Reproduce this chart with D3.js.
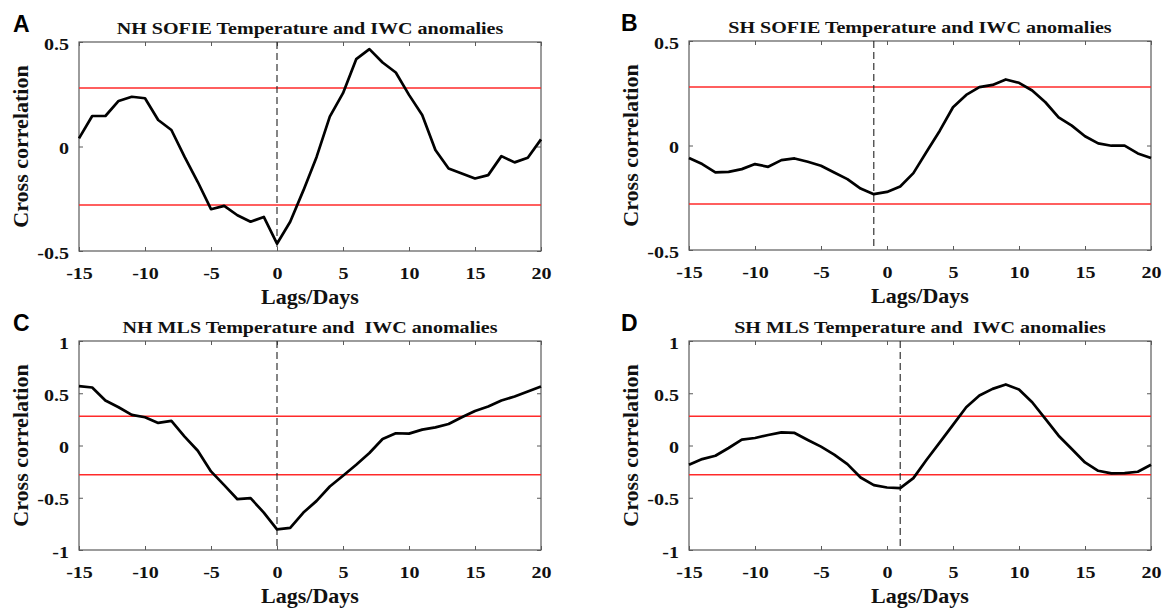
<!DOCTYPE html>
<html>
<head>
<meta charset="utf-8">
<script src="https://cdn.jsdelivr.net/npm/d3@7/dist/d3.min.js"></script>
<style>
  body { margin: 0; background: #fff; }
</style>
</head>
<body>
<div id="chart"></div>
<script>
// Data
const lags = [-15, -14, -13, -12, -11, -10, -9, -8, -7, -6, -5, -4, -3, -2, -1, 0, 1, 2,
  3, 4, 5, 6, 7, 8, 9, 10, 11, 12, 13, 14, 15, 16, 17, 18, 19, 20]

const nhSofie = [0.039, 0.146, 0.146, 0.218, 0.238, 0.231, 0.127, 0.079, -0.05, -0.17, -0.30, -0.284,
  -0.329, -0.36, -0.337, -0.465, -0.36, -0.21, -0.05, 0.143, 0.255, 0.418, 0.466, 0.402,
  0.354, 0.247, 0.151, -0.017, -0.105, -0.129, -0.153, -0.137, -0.046, -0.076, -0.054, 0.034]

const shSofie = [-0.06, -0.089, -0.129, -0.126, -0.113, -0.089, -0.102, -0.07, -0.062, -0.078, -0.097, -0.129,
  -0.161, -0.206, -0.233, -0.222, -0.196, -0.132, -0.03, 0.071, 0.183, 0.242, 0.279, 0.29,
  0.316, 0.30, 0.263, 0.207, 0.135, 0.095, 0.044, 0.01, -0.001, -0.001, -0.038, -0.06]

const nhMls = [0.568, 0.555, 0.43, 0.366, 0.293, 0.27, 0.216, 0.235, 0.085, -0.05, -0.248, -0.379,
  -0.514, -0.504, -0.642, -0.802, -0.789, -0.642, -0.53, -0.392, -0.29, -0.184, -0.072, 0.062,
  0.117, 0.114, 0.152, 0.174, 0.206, 0.27, 0.331, 0.373, 0.43, 0.469, 0.517, 0.565]

const shMls = [-0.184, -0.13, -0.098, -0.024, 0.056, 0.072, 0.1, 0.126, 0.12, 0.053, -0.011, -0.088,
  -0.178, -0.306, -0.379, -0.402, -0.408, -0.312, -0.136, 0.03, 0.197, 0.366, 0.478, 0.542,
  0.584, 0.536, 0.414, 0.254, 0.094, -0.034, -0.162, -0.242, -0.267, -0.264, -0.251, -0.184]

const sigLevel = 0.28            // red significance lines at +/- this value
const xTicks = [-15, -10, -5, 0, 5, 10, 15, 20]
const sofieTicks = [-0.5, 0, 0.5]
const mlsTicks = [-1, -0.5, 0, 0.5, 1]

const panels = [
  { letter: 'A', title: 'NH SOFIE Temperature and IWC anomalies', values: nhSofie, yTicks: sofieTicks, refLag: 0, left: 79, top: 42 },
  { letter: 'B', title: 'SH SOFIE Temperature and IWC anomalies', values: shSofie, yTicks: sofieTicks, refLag: -1, left: 689, top: 41 },
  { letter: 'C', title: 'NH MLS Temperature and  IWC anomalies', values: nhMls, yTicks: mlsTicks, refLag: 0, left: 79, top: 341 },
  { letter: 'D', title: 'SH MLS Temperature and  IWC anomalies', values: shMls, yTicks: mlsTicks, refLag: 1, left: 689, top: 341 }
]

// Dimensions
const dims = { width: 1163, height: 609, plotW: 462, plotH: 209 }
const stretch = 1.18   // the figure's text is a bit wider than tall
const boxColor = '#5a5a5a'
const serif = '"Liberation Serif", "Times New Roman", Times, serif'

const svg = d3.select('#chart')
  .append('svg')
  .attr('width', dims.width)
  .attr('height', dims.height)

panels.forEach(p => {
  const g = svg.append('g')
    .attr('transform', `translate(${p.left}, ${p.top})`)

  const xScale = d3.scaleLinear()
    .domain([lags[0], lags[lags.length - 1]])
    .range([0, dims.plotW])
  const yScale = d3.scaleLinear()
    .domain(d3.extent(p.yTicks))
    .range([dims.plotH, 0])

  // axes with inward ticks on all four sides
  const fmt = d => String(d)
  const xAxis = g.append('g')
    .attr('transform', `translate(0, ${dims.plotH})`)
    .call(d3.axisBottom(xScale).tickValues(xTicks).tickSizeInner(-4).tickSizeOuter(0).tickFormat(fmt))
  g.append('g')
    .call(d3.axisTop(xScale).tickValues(xTicks).tickSizeInner(-4).tickSizeOuter(0).tickFormat(''))
  const yAxis = g.append('g')
    .call(d3.axisLeft(yScale).tickValues(p.yTicks).tickSizeInner(-4).tickSizeOuter(0).tickFormat(fmt))
  g.append('g')
    .attr('transform', `translate(${dims.plotW}, 0)`)
    .call(d3.axisRight(yScale).tickValues(p.yTicks).tickSizeInner(-4).tickSizeOuter(0).tickFormat(''))

  g.selectAll('.domain').remove()
  g.selectAll('.tick line').attr('stroke', boxColor)

  xAxis.selectAll('text')
    .attr('y', 28).attr('dy', null)
    .attr('transform', `scale(${stretch},1)`)
  yAxis.selectAll('text')
    .attr('x', -10 / stretch).attr('dy', 7)
    .attr('transform', `scale(${stretch},1)`)
  g.selectAll('.tick text')
    .attr('fill', '#111')
    .style('font-family', serif)
    .style('font-weight', 'bold')
    .style('font-size', '17px')

  // box
  g.append('rect')
    .attr('width', dims.plotW)
    .attr('height', dims.plotH)
    .attr('fill', 'none')
    .attr('stroke', boxColor)
    .attr('stroke-width', 1.2)

  // significance lines
  g.selectAll('.sig')
    .data([sigLevel, -sigLevel])
    .join('line')
    .attr('class', 'sig')
    .attr('x1', 0)
    .attr('x2', dims.plotW)
    .attr('y1', d => yScale(d))
    .attr('y2', d => yScale(d))
    .attr('stroke', '#ff2a2a')
    .attr('stroke-width', 1.6)

  // dashed reference lag
  g.append('line')
    .attr('x1', xScale(p.refLag))
    .attr('x2', xScale(p.refLag))
    .attr('y1', 0)
    .attr('y2', dims.plotH)
    .attr('stroke', '#222')
    .attr('stroke-width', 1.1)
    .attr('stroke-dasharray', '7,4')

  // correlation curve
  const line = d3.line()
    .x((d, i) => xScale(lags[i]))
    .y(d => yScale(d))
  g.append('path')
    .datum(p.values)
    .attr('d', line)
    .attr('fill', 'none')
    .attr('stroke', '#000')
    .attr('stroke-width', 2.7)
    .attr('stroke-linejoin', 'round')

  // title
  g.append('text')
    .attr('transform', `translate(${dims.plotW / 2}, -8.5) scale(${stretch},1)`)
    .attr('text-anchor', 'middle')
    .style('font-family', serif)
    .style('font-weight', 'bold')
    .style('font-size', '17px')
    .style('white-space', 'pre')
    .attr('fill', '#111')
    .text(p.title)

  // axis labels
  g.append('text')
    .attr('transform', `translate(${dims.plotW / 2}, ${dims.plotH + 53})`)
    .attr('text-anchor', 'middle')
    .style('font-family', serif)
    .style('font-weight', 'bold')
    .style('font-size', '22px')
    .attr('fill', '#111')
    .text('Lags/Days')
  g.append('text')
    .attr('transform', `translate(-51, ${dims.plotH / 2}) rotate(-90)`)
    .attr('text-anchor', 'middle')
    .style('font-family', serif)
    .style('font-weight', 'bold')
    .style('font-size', '22px')
    .attr('fill', '#111')
    .text('Cross correlation')

  // panel letter
  g.append('text')
    .attr('x', p.left < 300 ? 13 - p.left : 621 - p.left)
    .attr('y', -10)
    .style('font-family', '"Liberation Sans", Arial, sans-serif')
    .style('font-weight', 'bold')
    .style('font-size', '23px')
    .attr('fill', '#000')
    .text(p.letter)
})
</script>
</body>
</html>
